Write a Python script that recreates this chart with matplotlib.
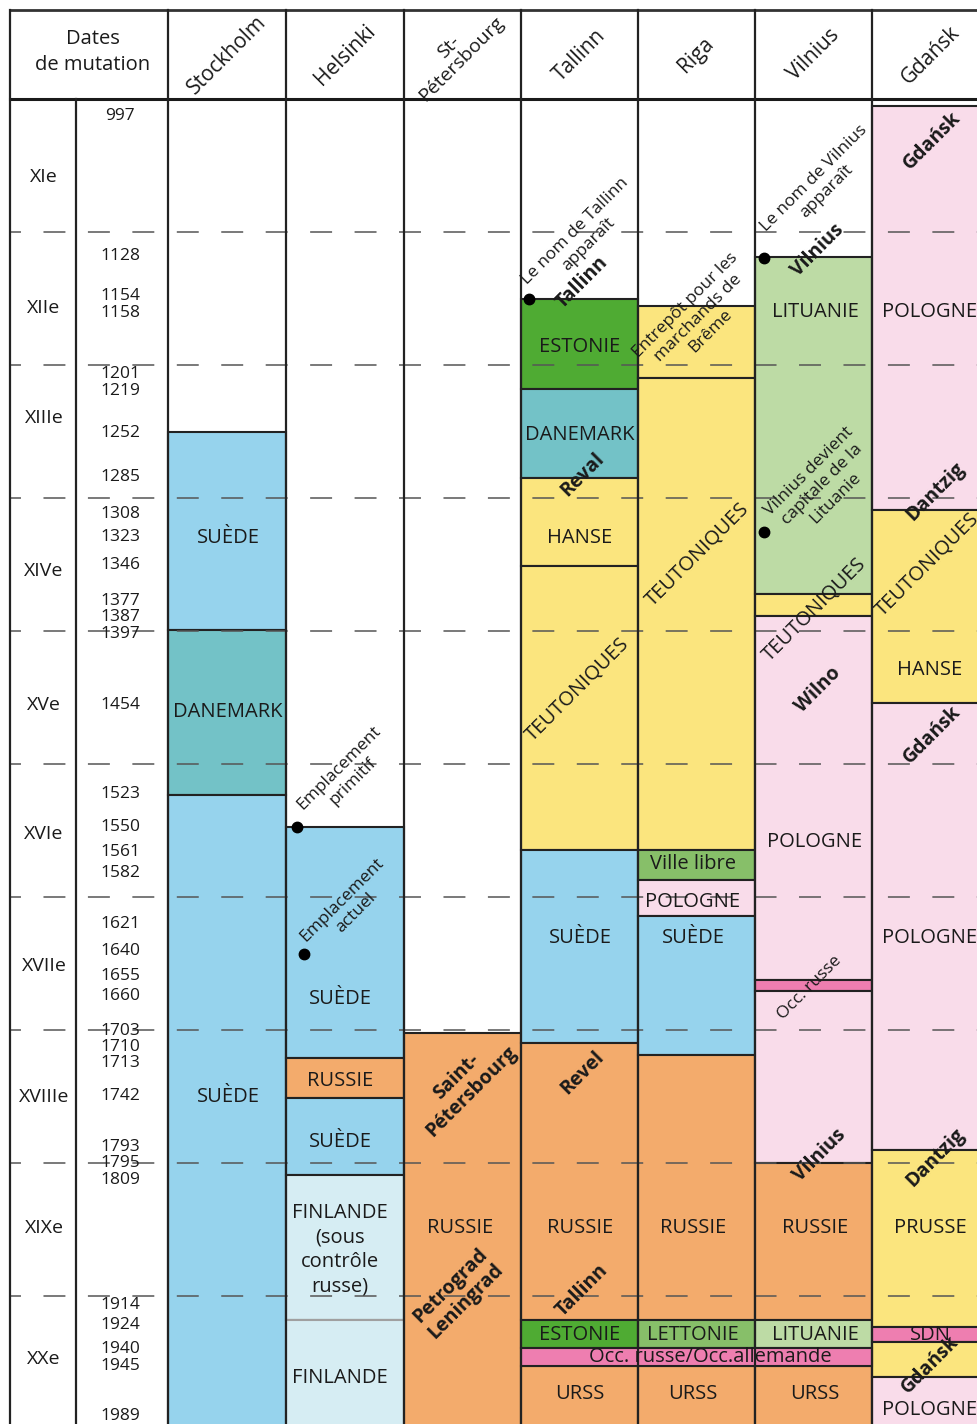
import matplotlib
matplotlib.use("Agg")
import matplotlib.pyplot as plt

plt.rcParams['font.family'] = ['Open Sans', 'DejaVu Sans']
plt.rcParams['lines.scale_dashes'] = False

# column layout (pixels) and time scale
col_edges = [168, 286, 404, 521, 638, 755, 872, 989]
cities = ['Stockholm', 'Helsinki', 'St-\nPétersbourg', 'Tallinn', 'Riga', 'Vilnius', 'Gdańsk']
centuries = ['XIe', 'XIIe', 'XIIIe', 'XIVe', 'XVe', 'XVIe', 'XVIIe', 'XVIIIe', 'XIXe', 'XXe']
century_pos = [1059, 1157, 1240, 1355, 1456, 1553, 1652, 1750, 1849, 1947]
century_lines = [1100, 1200, 1300, 1400, 1500, 1600, 1700, 1800, 1900]

years = ['997', '1128', '1154', '1158', '1201', '1219', '1252', '1285', '1308', '1323',
         '1346', '1377', '1387', '1397', '1454', '1523', '1550', '1561', '1582', '1621',
         '1640', '1655', '1660', '1703', '1710', '1713', '1742', '1793', '1795', '1809',
         '1914', '1924', '1940', '1945', '1989']
year_pos = [1012.8, 1118, 1148, 1161, 1206.8, 1219.5, 1251, 1284, 1312, 1329.3,
            1350.4, 1377.4, 1389.5, 1402, 1455.6, 1522.6, 1547.4, 1566, 1582, 1620,
            1640.6, 1659.4, 1674.4, 1700.8, 1712.8, 1724.5, 1749.6, 1788, 1800, 1812.8,
            1906.8, 1921.8, 1939.8, 1953, 1990]

colors = {
    'suede': '#96d3ed', 'danemark': '#73c2c7', 'estonie': '#4fab33',
    'lettonie': '#87bf69', 'lituanie': '#bddba5', 'jaune': '#fbe57e',
    'pologne': '#f9dcea', 'occ': '#ee7eb0', 'russie': '#f3ab6c',
    'finlande': '#d6edf3',
}

# (from, to, state) per city
stockholm = [(1250, 1399, 'suede'), (1399, 1523, 'danemark'), (1523, 2000, 'suede')]
helsinki = [(1547, 1721, 'suede'), (1721, 1751, 'russie'), (1751, 1809, 'suede'),
            (1809, 1918, 'finlande'), (1918, 2000, 'finlande')]
st_petersbourg = [(1702, 2000, 'russie')]
tallinn = [(1150, 1218, 'estonie'), (1218, 1285, 'danemark'), (1285, 1351, 'jaune'),
           (1351, 1565, 'jaune'), (1565, 1710, 'suede'), (1710, 1918, 'russie'),
           (1918, 1939, 'estonie'), (1953, 2000, 'russie')]
riga = [(1156, 1210, 'jaune'), (1210, 1565, 'jaune'), (1565, 1587, 'lettonie'),
        (1587, 1614, 'pologne'), (1614, 1719, 'suede'), (1719, 1918, 'russie'),
        (1918, 1939, 'lettonie'), (1953, 2000, 'russie')]
vilnius = [(1118.5, 1372.5, 'lituanie'), (1372.5, 1389, 'jaune'), (1389, 1662.5, 'pologne'),
           (1662.5, 1671, 'occ'), (1671, 1800, 'pologne'), (1800, 1918, 'russie'),
           (1918, 1939, 'lituanie'), (1953, 2000, 'russie')]
gdansk = [(1005, 1309, 'pologne'), (1309, 1454, 'jaune'), (1454, 1790, 'pologne'),
          (1790, 1923, 'jaune'), (1923, 1934.5, 'occ'), (1934.5, 1961, 'jaune'),
          (1961, 2000, 'pologne')]
occupation = (1939, 1953)  # Tallinn..Vilnius

box_labels = [
    (228, 1330, 'SUÈDE'), (228, 1461, 'DANEMARK'), (228, 1750, 'SUÈDE'),
    (340, 1677, 'SUÈDE'), (340, 1738, 'RUSSIE'), (340, 1784, 'SUÈDE'),
    (340, 1865, 'FINLANDE\n(sous\ncontrôle\nrusse)'), (340, 1962, 'FINLANDE'),
    (460, 1849, 'RUSSIE'),
    (580, 1186.5, 'ESTONIE'), (580, 1253, 'DANEMARK'), (580, 1330, 'HANSE'),
    (580, 1631, 'SUÈDE'), (580, 1849, 'RUSSIE'), (580, 1929, 'ESTONIE'), (580, 1974, 'URSS'),
    (693, 1575, 'Ville libre'), (693, 1604, 'POLOGNE'), (693, 1631, 'SUÈDE'),
    (693, 1849, 'RUSSIE'), (693, 1929, 'LETTONIE'), (710, 1946, 'Occ. russe/Occ.allemande'),
    (693, 1974, 'URSS'),
    (815, 1160, 'LITUANIE'), (815, 1558.6, 'POLOGNE'), (815, 1849, 'RUSSIE'),
    (815, 1929, 'LITUANIE'), (815, 1974, 'URSS'),
    (930, 1160, 'POLOGNE'), (930, 1429, 'HANSE'), (930, 1631, 'POLOGNE'),
    (930, 1849, 'PRUSSE'), (930, 1929, 'SDN'), (930, 1986, 'POLOGNE'),
]
rot_labels = [
    (578, 1444, 'TEUTONIQUES'), (698, 1343, 'TEUTONIQUES'),
    (815, 1384, 'TEUTONIQUES'), (928, 1350, 'TEUTONIQUES'),
]
notes = [
    (346, 1508, 'Emplacement\nprimitif'), (349, 1607, 'Emplacement\nactuel'),
    (582, 1104.5, 'Le nom de Tallinn\napparaît'),
    (698, 1164.7, 'Entrepôt pour les\nmarchands de\nBrême'),
    (820, 1064.7, 'Le nom de Vilnius\napparaît'),
    (822, 1290, 'Vilnius devient\ncapitale de la\nLituanie'),
    (810, 1668.4, 'Occ. russe'),
]
names = [
    (464, 1741, 'Saint-\nPétersbourg'), (458, 1898, 'Petrograd\nLeningrad'),
    (582, 1137.6, 'Tallinn'), (582, 1282.7, 'Reval'), (582, 1732, 'Revel'),
    (582, 1895.5, 'Tallinn'),
    (818, 1113.5, 'Vilnius'), (818, 1444, 'Wilno'), (820, 1794, 'Vilnius'),
    (932, 1031, 'Gdańsk'), (935, 1295.5, 'Dantzig'), (932, 1478, 'Gdańsk'),
    (935, 1796, 'Dantzig'), (930, 1952, 'Gdańsk'),
]
dots_x = [297, 304, 529, 764, 764]
dots_y = [1547, 1643, 1150, 1119.5, 1325.6]


def py(px):
    # pixel row -> year on the vertical scale
    return 1000 + (px - 99) / 1.33


ink = '#1a1a1a'
fig = plt.figure(figsize=(9.77, 14.24), dpi=100)
ax = fig.add_axes([0, 0, 1, 1])
ax.set_xlim(0, 977)
ax.set_ylim(py(1424), py(0))
ax.axis('off')

# boxes
for i, segs in enumerate([stockholm, helsinki, st_petersbourg, tallinn, riga, vilnius, gdansk]):
    left, right = col_edges[i], col_edges[i + 1]
    for j, (a, b, s) in enumerate(segs):
        edge = '#a0a0a0' if (segs is helsinki and j == 4) else '#222222'
        ax.bar((left + right) / 2, b - a, bottom=a, width=right - left,
               color=colors[s], edgecolor=edge, linewidth=1.5, zorder=2)
ax.bar((col_edges[3] + col_edges[6]) / 2, occupation[1] - occupation[0], bottom=occupation[0],
       width=col_edges[6] - col_edges[3], color=colors['occ'], edgecolor='#222222',
       linewidth=1.5, zorder=2)

# century dashed lines on top
for c in century_lines:
    ax.plot([10, 977], [c, c], color='#555555', lw=1.1, linestyle=(7.9, (15.8, 16.2)), zorder=5)

# grid frame
ax.plot([10, 977], [py(10), py(10)], color='#333333', lw=2, zorder=6)
ax.plot([10, 977], [py(98.5), py(98.5)], color='#1a1a1a', lw=2.2, zorder=6)
for x in [10] + col_edges[:-1]:
    ax.plot([x, x], [py(10), py(1424)], color='#222222', lw=1.6, zorder=6)
ax.plot([76, 76], [py(98.5), py(1424)], color='#222222', lw=1.6, zorder=6)

# header
ax.text(93, py(52), 'Dates\nde mutation', ha='center', va='center', fontsize=14.5,
        color=ink, linespacing=1.35)
for i, name in enumerate(cities):
    cx = (col_edges[i] + col_edges[i + 1]) / 2
    cy, fs = 55, 15
    if '\n' in name:
        cx, cy, fs = 455, 53, 14
    ax.text(cx, py(cy), name, ha='center', va='center', rotation=45, rotation_mode='anchor',
            fontsize=fs, color=ink, linespacing=1.0, multialignment='center')

# date column
for lab, y in zip(centuries, century_pos):
    ax.text(44, y, lab, ha='center', va='center', fontsize=14, color=ink, zorder=7)
for lab, y in zip(years, year_pos):
    ax.text(120, y, lab, ha='center', va='center', fontsize=12.5, color=ink, zorder=7)

for x, y, t in box_labels:
    ax.text(x, y, t, ha='center', va='center', fontsize=14.5, color=ink, zorder=7,
            linespacing=1.3)
for x, y, t in rot_labels:
    ax.text(x, y, t, ha='center', va='center', rotation=45, rotation_mode='anchor',
            fontsize=14.5, color=ink, zorder=7)
for x, y, t in notes:
    ax.text(x, y, t, ha='center', va='center', rotation=45, rotation_mode='anchor',
            fontsize=12.5, color=ink, zorder=7, linespacing=1.2, multialignment='center')
for x, y, t in names:
    ax.text(x, y, t, ha='center', va='center', rotation=45, rotation_mode='anchor',
            fontsize=14, fontweight='bold', color=ink, zorder=7, linespacing=1.1,
            multialignment='center')
ax.plot(dots_x, dots_y, 'o', color='black', ms=7.5, zorder=8)

fig.savefig('out.png', dpi=100)
